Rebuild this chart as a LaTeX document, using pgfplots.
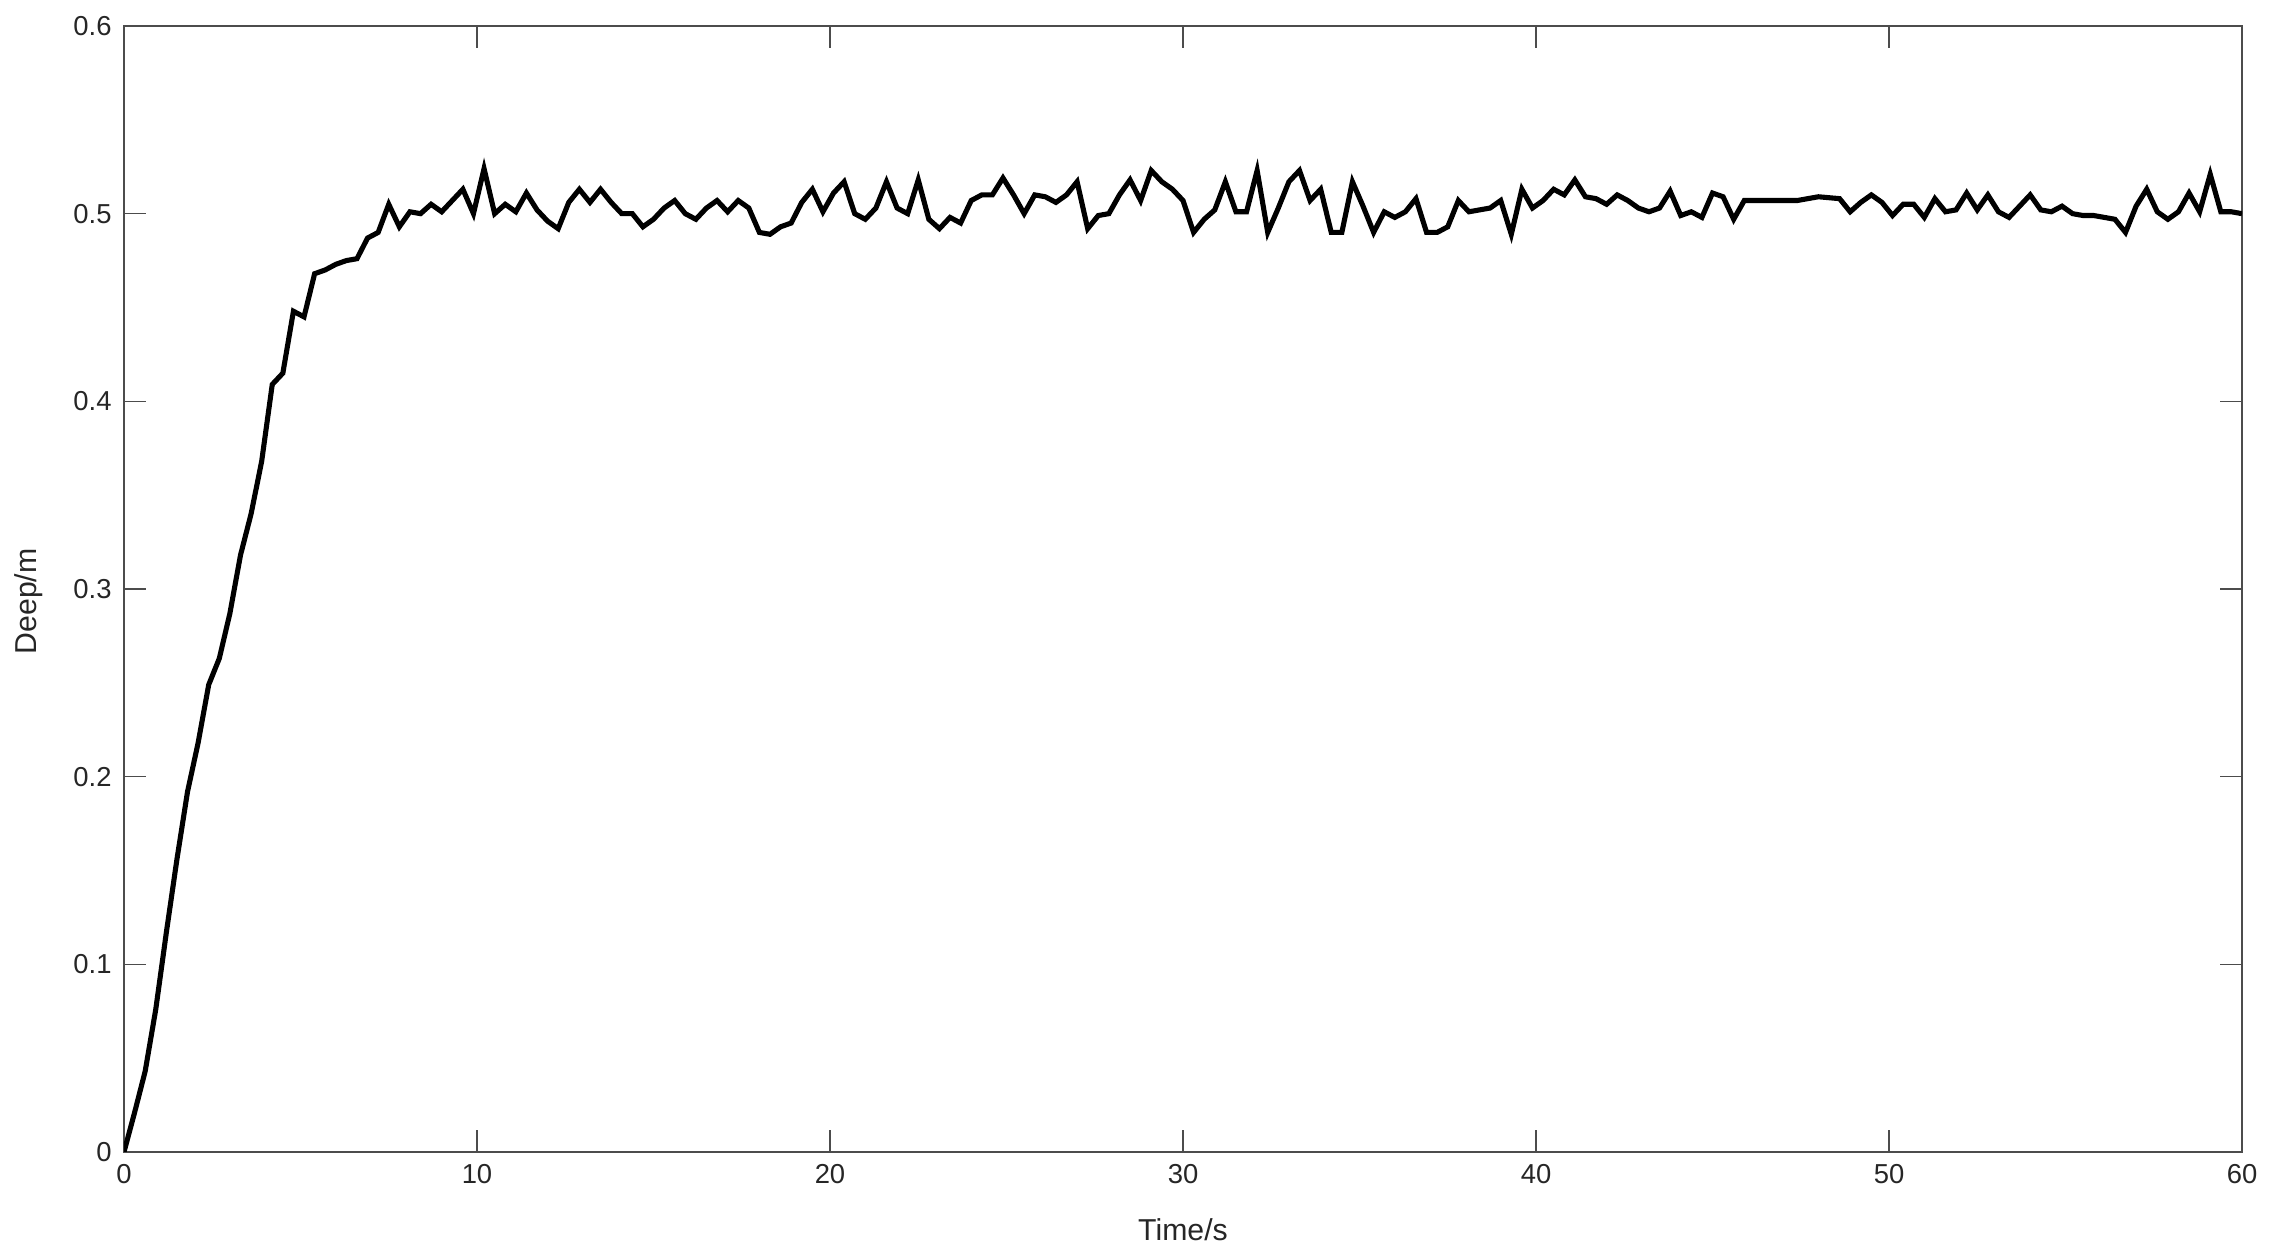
\documentclass[border=0pt]{standalone}
\usepackage{fontspec}
\setmainfont{Liberation Sans}
\usepackage{pgfplots}
\pgfplotsset{compat=1.18}

\definecolor{axgray}{rgb}{0.15,0.15,0.15}

\begin{document}
\begin{tikzpicture}
\begin{axis}[
    width=21.18cm, height=11.26cm,
    scale only axis,
    xmin=0, xmax=60, ymin=0, ymax=0.6,
    xtick={0,10,...,60},
    ytick={0,0.1,...,0.6},
    tick align=inside,
    major tick length=0.22cm,
    axis line style={black!70, line width=0.45pt},
    every tick/.style={black!70, line width=0.45pt},
    tick label style={font=\fontsize{7.8}{9.4}\selectfont, text=axgray},
    label style={font=\fontsize{8.6}{10}\selectfont, text=axgray},
    /pgf/number format/assume math mode=true,
    yticklabel style={/pgf/number format/fixed, /pgf/number format/precision=1, /pgf/number format/fixed zerofill=false},
    xlabel={Time/s}, ylabel={Deep/m},
    xlabel style={at={(axis description cs:0.5,0)}, anchor=center, yshift=-0.78cm},
    ylabel style={at={(axis description cs:0,0.489)}, anchor=center, rotate=0, yshift=0.95cm},
]
\addplot[black, line width=1.45pt, line join=miter] coordinates {
(0,0) (0.3,0.021) (0.6,0.043) (0.9,0.076) (1.2,0.117) (1.5,0.156) (1.8,0.192)
(2.1,0.218) (2.4,0.249) (2.7,0.263) (3.0,0.287) (3.3,0.318) (3.6,0.340)
(3.9,0.368) (4.2,0.409) (4.5,0.415) (4.8,0.448) (5.1,0.445) (5.4,0.468)
(5.7,0.470) (6.0,0.473) (6.3,0.475) (6.6,0.476) (6.9,0.487) (7.2,0.490)
(7.5,0.505) (7.8,0.493) (8.1,0.501) (8.4,0.500) (8.7,0.505) (9.0,0.501)
(9.3,0.507) (9.6,0.513) (9.9,0.500) (10.2,0.524) (10.5,0.500) (10.8,0.505)
(11.1,0.501) (11.4,0.511) (11.7,0.502) (12.0,0.496) (12.3,0.492) (12.6,0.506)
(12.9,0.513) (13.2,0.506) (13.5,0.513) (13.8,0.506) (14.1,0.500) (14.4,0.500)
(14.7,0.493) (15.0,0.497) (15.3,0.503) (15.6,0.507) (15.9,0.500) (16.2,0.497)
(16.5,0.503) (16.8,0.507) (17.1,0.501) (17.4,0.507) (17.7,0.503) (18.0,0.490)
(18.3,0.489) (18.6,0.493) (18.9,0.495) (19.2,0.506) (19.5,0.513) (19.8,0.501)
(20.1,0.511) (20.4,0.517) (20.7,0.500) (21.0,0.497) (21.3,0.503) (21.6,0.517)
(21.9,0.503) (22.2,0.500) (22.5,0.518) (22.8,0.497) (23.1,0.492) (23.4,0.498)
(23.7,0.495) (24.0,0.507) (24.3,0.510) (24.6,0.510) (24.9,0.519) (25.2,0.510)
(25.5,0.500) (25.8,0.510) (26.1,0.509) (26.4,0.506) (26.7,0.510) (27.0,0.517)
(27.3,0.492) (27.6,0.499) (27.9,0.500) (28.2,0.510) (28.5,0.518) (28.8,0.507)
(29.1,0.523) (29.4,0.517) (29.7,0.513) (30.0,0.507) (30.3,0.490) (30.6,0.497)
(30.9,0.502) (31.2,0.517) (31.5,0.501) (31.8,0.501) (32.1,0.523) (32.4,0.490)
(32.7,0.503) (33.0,0.517) (33.3,0.523) (33.6,0.507) (33.9,0.513) (34.2,0.490)
(34.5,0.490) (34.8,0.517) (35.1,0.504) (35.4,0.490) (35.7,0.501) (36.0,0.498)
(36.3,0.501) (36.6,0.508) (36.9,0.490) (37.2,0.490) (37.5,0.493) (37.8,0.507)
(38.1,0.501) (38.4,0.502) (38.7,0.503) (39.0,0.507) (39.3,0.489) (39.6,0.513)
(39.9,0.503) (40.2,0.507) (40.5,0.513) (40.8,0.510) (41.1,0.518) (41.4,0.509)
(41.7,0.508) (42.0,0.505) (42.3,0.510) (42.6,0.507) (42.9,0.503) (43.2,0.501)
(43.5,0.503) (43.8,0.512) (44.1,0.499) (44.4,0.501) (44.7,0.498) (45.0,0.511)
(45.3,0.509) (45.6,0.497) (45.9,0.507) (46.2,0.507) (46.5,0.507) (46.8,0.507)
(47.1,0.507) (47.4,0.507) (47.7,0.508) (48.0,0.509) (48.3,0.5085) (48.6,0.508)
(48.9,0.501) (49.2,0.506) (49.5,0.510) (49.8,0.506) (50.1,0.499) (50.4,0.505)
(50.7,0.505) (51.0,0.498) (51.3,0.508) (51.6,0.501) (51.9,0.502) (52.2,0.511)
(52.5,0.502) (52.8,0.510) (53.1,0.501) (53.4,0.498) (53.7,0.504) (54.0,0.510)
(54.3,0.502) (54.6,0.501) (54.9,0.504) (55.2,0.500) (55.5,0.499) (55.8,0.499)
(56.1,0.498) (56.4,0.497) (56.7,0.490) (57.0,0.504) (57.3,0.513) (57.6,0.501)
(57.9,0.497) (58.2,0.501) (58.5,0.511) (58.8,0.501) (59.1,0.521) (59.4,0.501)
(59.7,0.501) (60.0,0.500)
};
\end{axis}
\useasboundingbox (current axis.south west) ++(-1.24cm,-1.08cm) rectangle ([xshift=0.41cm,yshift=0.26cm]current axis.north east);
\end{tikzpicture}
\end{document}
